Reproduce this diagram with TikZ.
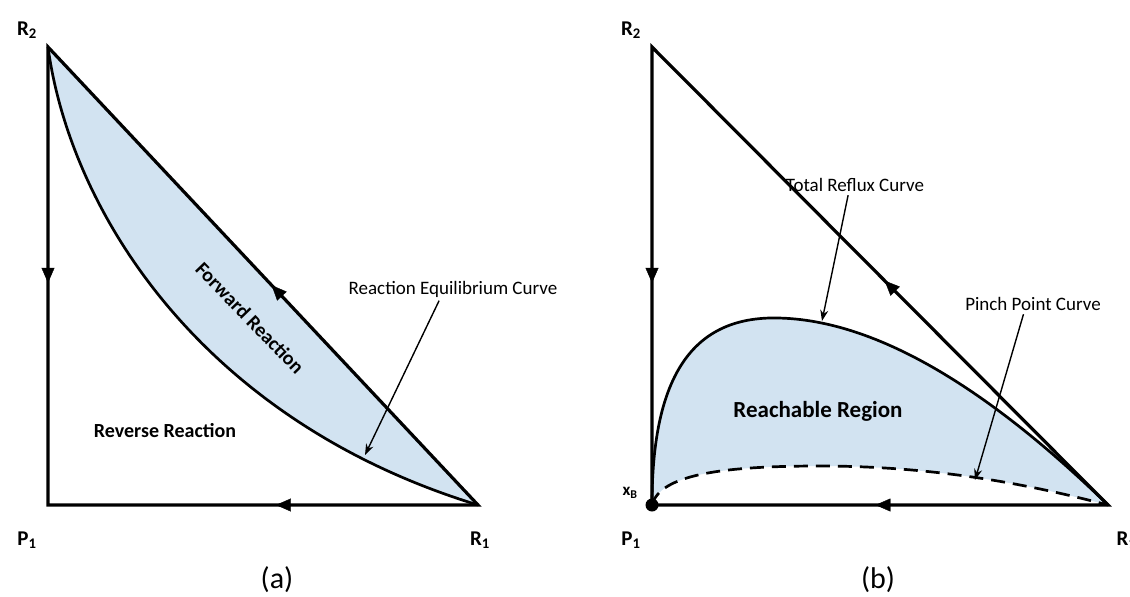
\documentclass[tikz,border=0pt]{standalone}
\usepackage{fontspec}
\setmainfont{Carlito}
\usetikzlibrary{arrows.meta, decorations.markings, calc}
\definecolor{regionfill}{HTML}{D2E3F1}
\tikzset{
  % triangle edges of the composition diagram
  frame/.style={line width=3.2pt, line join=miter},
  % arrow head placed part way along an edge
  flowmark/.style={postaction={decorate}, decoration={markings,
                   mark=at position #1 with {\arrow{Triangle[length=15pt,width=13pt]}}}},
  % the thick curves
  curveline/.style={line width=2.7pt},
  pinchline/.style={line width=2.7pt, dash pattern=on 14pt off 8pt},
  % text
  corner/.style={font=\bfseries\fontsize{21}{24}\selectfont},
  note/.style={font=\fontsize{19}{22}\selectfont},
  zone/.style={font=\bfseries\fontsize{#1}{24}\selectfont},
  caption/.style={font=\fontsize{30}{34}\selectfont},
  pointer/.style={-{Stealth[length=11pt,width=8pt]}, line width=1.4pt},
}

\begin{document}
\begin{tikzpicture}[x=1pt, y=-1pt]
  \useasboundingbox (0,0) rectangle (1130,597);
  % ---------- panel (a)
  \coordinate (R2a) at (48,47);
  \coordinate (P1a) at (48,505);
  \coordinate (R1a) at (478,505);
  \fill[regionfill] (R2a) .. controls (70,210) and (200,420) .. (R1a) -- cycle;
  \draw[curveline] (R2a) .. controls (70,210) and (200,420) .. (R1a);
  \draw[frame] (R2a) -- (P1a) -- (R1a) -- cycle;
  \path[flowmark=0.515] (R2a) -- (P1a);
  \path[flowmark=0.47] (R1a) -- (P1a);
  \path[flowmark=0.48] (R1a) -- (R2a);
  \node[corner] (labR2a) at (27,30) {R\textsubscript{2}};
  \node[corner] (labP1a) at (27,540) {P\textsubscript{1}};
  \node[corner] (labR1a) at (480,540) {R\textsubscript{1}};
  \node[zone=20, rotate=-46] (fwd) at (250,318) {Forward Reaction};
  \node[zone=20] (rev) at (165,431) {Reverse Reaction};
  \node[note] (eqnote) at (453,289) {Reaction Equilibrium Curve};
  \coordinate (eqpt) at (365,455);
  \draw[pointer] (eqnote.220) -- (eqpt);
  \node[caption] (capa) at (277,580) {(a)};

  % ---------- panel (b)
  \coordinate (R2b) at (652,47);
  \coordinate (P1b) at (652,505);
  \coordinate (R1b) at (1108,505);
  \fill[regionfill] (P1b) .. controls (652,380) and (690,320) .. (770,318)
    .. controls (880,316) and (1000,400) .. (R1b)
    .. controls (1050,490) and (950,466) .. (820,466)
    .. controls (720,466) and (660,475) .. (P1b) -- cycle;
  \draw[pinchline] (P1b) .. controls (660,475) and (720,466) .. (820,466)
    .. controls (950,466) and (1050,490) .. (R1b);
  \draw[curveline] (P1b) .. controls (652,380) and (690,320) .. (770,318)
    .. controls (880,316) and (1000,400) .. (R1b);
  \draw[frame] (R2b) -- (P1b) -- (R1b) -- cycle;
  \path[flowmark=0.515] (R2b) -- (P1b);
  \path[flowmark=0.51] (R1b) -- (P1b);
  \path[flowmark=0.49] (R1b) -- (R2b);
  \fill (P1b) circle (6.5);
  \node[corner] (labR2b) at (631,30) {R\textsubscript{2}};
  \node[corner] (labP1b) at (631,540) {P\textsubscript{1}};
  \node[corner, anchor=west] (labR1b) at (1113,540) {R\textsubscript{1}};
  \node[corner, font=\bfseries\fontsize{17}{20}\selectfont] (labxB) at (630,493) {x\textsubscript{B}};
  \node[zone=23] (reach) at (818,411) {Reachable Region};
  \node[note] (refluxnote) at (855,185) {Total Reflux Curve};
  \node[note] (pinchnote) at (1033,304) {Pinch Point Curve};
  \coordinate (refluxpt) at (822,321);
  \coordinate (pinchpt) at (975,480);
  \draw[pointer] (refluxnote.236) -- (refluxpt);
  \draw[pointer] (pinchnote.227) -- (pinchpt);
  \node[caption] (capb) at (878,580) {(b)};
\end{tikzpicture}
\end{document}
